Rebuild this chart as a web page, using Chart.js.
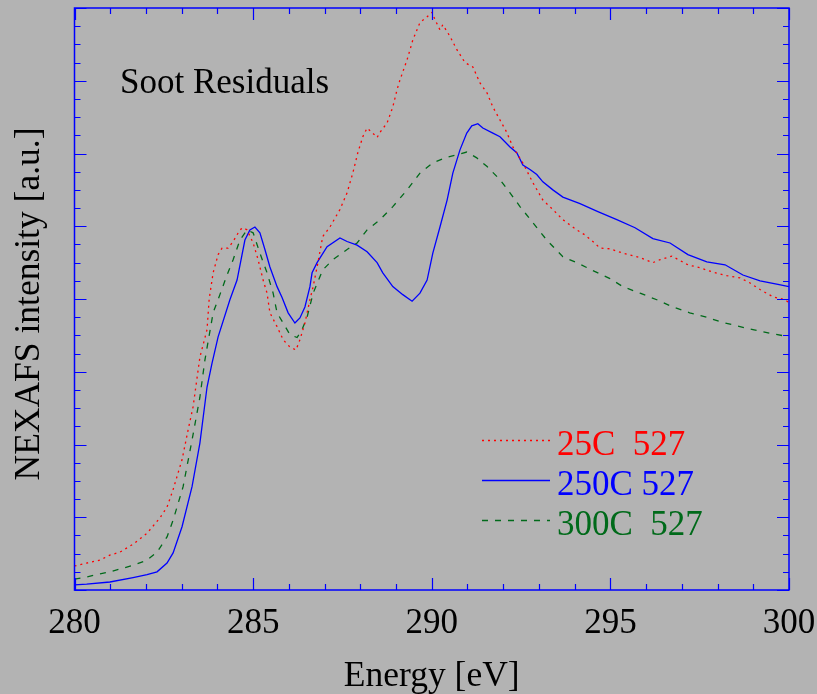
<!DOCTYPE html>
<html>
<head>
<meta charset="utf-8">
<script src="https://cdn.jsdelivr.net/npm/chart.js@4/dist/chart.umd.min.js"></script>
<style>
  html, body { margin: 0; padding: 0; background: #b3b3b3; }
  #wrap { width: 817px; height: 694px; }
</style>
</head>
<body>
<div id="wrap"><canvas id="c" width="817" height="694"></canvas></div>
<script>
// ---- Data ----
const seriesLabels = ["25C  527", "250C 527", "300C  527"];

const energy25C = [280.0,280.34,280.71,280.99,281.27,281.64,282.03,282.39,282.59,282.76,283.01,283.18,283.32,283.51,283.71,283.77,283.88,284.02,284.13,284.30,284.44,284.63,284.72,284.83,285.0,285.14,285.28,285.39,285.47,285.67,285.84,286.03,286.20,286.31,286.45,286.59,286.68,286.79,286.95,287.15,287.43,287.63,287.79,287.93,288.07,288.19,288.33,288.47,288.55,288.75,288.91,289.03,289.11,289.31,289.47,289.67,289.87,290.01,290.09,290.23,290.31,290.51,290.70,290.93,291.15,291.35,291.55,291.71,291.91,292.10,292.27,292.55,292.83,293.11,293.39,293.67,294.06,294.29,294.51,294.71,294.99,295.35,295.83,296.19,296.39,296.72,297.17,297.50,297.87,298.26,298.63,298.91,299.19,299.55,299.89,300.0];
const intensity25C = [0.33,0.37,0.41,0.48,0.52,0.63,0.78,0.99,1.14,1.38,1.79,2.20,2.52,3.20,3.58,4.00,4.36,4.61,4.70,4.70,4.79,4.95,4.98,4.95,4.77,4.54,4.26,4.08,3.81,3.62,3.44,3.34,3.30,3.44,3.67,3.99,4.17,4.44,4.86,4.99,5.23,5.46,5.73,6.01,6.23,6.35,6.29,6.22,6.29,6.42,6.64,6.88,7.01,7.29,7.56,7.80,7.88,7.94,7.84,7.70,7.77,7.61,7.43,7.25,7.19,6.97,6.83,6.64,6.46,6.29,6.09,5.87,5.60,5.36,5.23,5.09,4.95,4.88,4.79,4.70,4.69,4.63,4.57,4.50,4.54,4.59,4.47,4.43,4.37,4.32,4.29,4.22,4.13,4.03,3.99,3.95];

const energy250C = [280.0,280.34,280.99,281.64,282.03,282.31,282.59,282.76,283.01,283.29,283.51,283.71,283.85,284.02,284.35,284.55,284.77,284.91,285.05,285.19,285.33,285.47,285.67,285.81,285.98,286.17,286.31,286.45,286.59,286.65,286.79,287.07,287.43,287.63,287.91,288.19,288.47,288.63,288.91,289.19,289.45,289.67,289.87,290.03,290.23,290.43,290.59,290.79,290.98,291.12,291.29,291.43,291.71,291.91,292.19,292.38,292.55,292.75,292.94,293.11,293.39,293.67,294.15,294.65,295.18,295.69,296.19,296.67,297.17,297.70,298.21,298.71,299.19,299.69,300.0];
const intensity250C = [0.07,0.08,0.11,0.17,0.21,0.25,0.37,0.51,0.87,1.42,2.02,2.79,3.12,3.48,3.99,4.26,4.81,4.95,4.99,4.91,4.68,4.44,4.17,4.02,3.81,3.67,3.74,3.89,4.17,4.36,4.50,4.72,4.84,4.79,4.74,4.65,4.50,4.36,4.17,4.06,3.97,4.08,4.26,4.63,4.99,5.36,5.73,6.05,6.28,6.38,6.41,6.35,6.28,6.23,6.09,6.01,5.84,5.78,5.71,5.61,5.50,5.40,5.31,5.20,5.09,4.98,4.83,4.77,4.61,4.51,4.47,4.33,4.25,4.20,4.17];

const energy300C = [280.0,280.34,280.99,281.64,282.03,282.31,282.59,282.76,283.04,283.29,283.51,283.65,283.88,284.07,284.27,284.44,284.63,284.83,285.0,285.19,285.39,285.56,285.67,285.84,286.03,286.23,286.37,286.51,286.68,286.95,287.23,287.63,287.91,288.19,288.55,288.91,289.31,289.67,290.03,290.43,290.70,290.98,291.26,291.55,291.91,292.19,292.47,292.83,293.22,293.67,294.06,294.51,294.99,295.35,295.83,296.30,296.75,297.22,297.70,298.06,298.54,298.99,299.47,300.0];
const intensity300C = [0.15,0.18,0.25,0.34,0.41,0.52,0.73,0.96,1.42,2.06,2.65,3.16,3.81,4.06,4.33,4.54,4.81,4.95,4.91,4.63,4.36,4.08,3.81,3.67,3.51,3.47,3.58,3.75,4.08,4.40,4.54,4.68,4.77,4.95,5.09,5.27,5.50,5.73,5.87,5.95,5.98,6.02,5.94,5.82,5.64,5.46,5.27,5.05,4.81,4.58,4.50,4.39,4.28,4.17,4.08,3.99,3.89,3.81,3.75,3.69,3.63,3.58,3.53,3.48];

const xTickLabels = [280, 285, 290, 295, 300];
const xMinorTicks = [280,281,282,283,284,285,286,287,288,289,290,291,292,293,294,295,296,297,298,299,300];
const yMajorTicks = [0,1,2,3,4,5,6,7,8];
const yMinorTicks = [0,0.25,0.5,0.75,1,1.25,1.5,1.75,2,2.25,2.5,2.75,3,3.25,3.5,3.75,4,4.25,4.5,4.75,5,5.25,5.5,5.75,6,6.25,6.5,6.75,7,7.25,7.5,7.75,8];

// ---- Styles ----
const FONT = "'Liberation Serif', 'Times New Roman', serif";
const colors = ['#ff0000', '#0000ff', '#006a1a'];
const dashes = [[2, 4], [], [6, 7]];

function pts(xs, ys) { return xs.map((v, i) => ({ x: v, y: ys[i] })); }
const allX = [energy25C, energy250C, energy300C];
const allY = [intensity25C, intensity250C, intensity300C];

const datasets = seriesLabels.map((lab, i) => ({
  label: lab,
  data: pts(allX[i], allY[i]),
  showLine: true,
  borderColor: colors[i],
  backgroundColor: colors[i],
  borderWidth: 1.3,
  borderDash: dashes[i],
  pointRadius: 0,
  tension: 0,
  fill: false
}));

const framePlugin = {
  id: 'frame',
  beforeDraw(chart) {
    const { ctx } = chart;
    ctx.save();
    ctx.fillStyle = '#b3b3b3';
    ctx.fillRect(0, 0, chart.width, chart.height);
    ctx.restore();
  },
  afterDatasetsDraw(chart) {
    const { ctx, chartArea: { left, right, top, bottom }, scales: { x, y } } = chart;
    ctx.save();
    ctx.strokeStyle = '#0000ff';
    ctx.lineWidth = 1.5;
    ctx.setLineDash([]);
    ctx.strokeRect(left, top, right - left, bottom - top);
    ctx.lineWidth = 1.2;
    ctx.beginPath();
    xMinorTicks.forEach(v => {
      const px = Math.round(x.getPixelForValue(v)) + 0.5;
      const L = xTickLabels.includes(v) ? 12 : 6;
      ctx.moveTo(px, bottom); ctx.lineTo(px, bottom - L);
      ctx.moveTo(px, top); ctx.lineTo(px, top + L);
    });
    yMinorTicks.forEach(v => {
      const py = Math.round(y.getPixelForValue(v)) + 0.5;
      const L = yMajorTicks.includes(v) ? 12 : 6;
      ctx.moveTo(left, py); ctx.lineTo(left + L, py);
      ctx.moveTo(right, py); ctx.lineTo(right - L, py);
    });
    ctx.stroke();

    // Annotation text
    ctx.fillStyle = '#000';
    ctx.font = '35px ' + FONT;
    ctx.textBaseline = 'alphabetic';
    ctx.textAlign = 'left';
    ctx.fillText('Soot Residuals', 120, 93);

    // Y-axis title
    ctx.save();
    ctx.translate(39, (top + bottom) / 2 + 5);
    ctx.rotate(-Math.PI / 2);
    ctx.textAlign = 'center';
    ctx.font = '35.5px ' + FONT;
    ctx.fillText('NEXAFS intensity [a.u.]', 0, 0);
    ctx.restore();

    // Legend
    ctx.font = '35px ' + FONT;
    chart.data.datasets.forEach((ds, i) => {
      const ly = 440.5 + i * 40;
      ctx.strokeStyle = ds.borderColor;
      ctx.lineWidth = 1.3;
      ctx.setLineDash(ds.borderDash);
      ctx.beginPath();
      ctx.moveTo(482, ly); ctx.lineTo(550, ly);
      ctx.stroke();
      ctx.setLineDash([]);
      ctx.fillStyle = ds.borderColor;
      ctx.fillText(ds.label, 557, 455 + i * 40);
    });
    ctx.restore();
  }
};

new Chart(document.getElementById('c'), {
  type: 'scatter',
  data: { datasets },
  options: {
    responsive: false,
    animation: false,
    devicePixelRatio: 1,
    layout: { padding: { top: 8, right: 28, left: 0, bottom: 0 } },
    plugins: { legend: { display: false }, tooltip: { enabled: false } },
    scales: {
      x: {
        type: 'linear', min: 280, max: 300,
        afterBuildTicks: s => { s.ticks = xTickLabels.map(v => ({ value: v })); },
        ticks: { color: '#000', font: { family: FONT, size: 35 }, padding: 13, maxRotation: 0, autoSkip: false },
        grid: { display: false, drawTicks: false },
        border: { display: false },
        title: { display: true, text: 'Energy [eV]', color: '#000', font: { family: FONT, size: 35.5, lineHeight: 1.0 }, padding: 0 },
        afterFit: s => { s.height = 104; s.paddingLeft = 0; s.paddingRight = 0; }
      },
      y: {
        type: 'linear', min: 0, max: 8,
        ticks: { display: false },
        grid: { display: false, drawTicks: false },
        border: { display: false },
        afterFit: s => { s.width = 74.5; s.paddingTop = 0; s.paddingBottom = 0; }
      }
    }
  },
  plugins: [framePlugin]
});
</script>
</body>
</html>
